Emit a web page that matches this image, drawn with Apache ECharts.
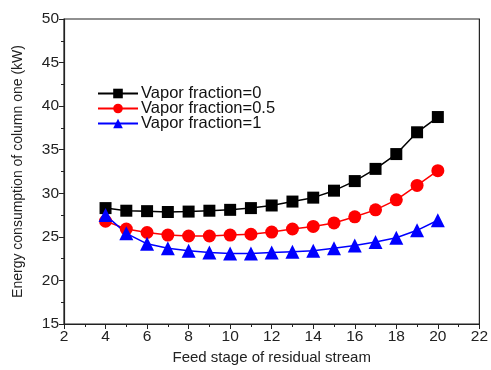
<!DOCTYPE html>
<html><head><meta charset="utf-8">
<script src="https://cdn.jsdelivr.net/npm/echarts@6/dist/echarts.min.js"></script>
<style>html,body{margin:0;padding:0;background:#fff}#c{width:491px;height:370px}</style>
</head><body><div id="c"></div>
<script>
const stages = [4,5,6,7,8,9,10,11,12,13,14,15,16,17,18,19,20];
const vf0 = [28.3,28.0,27.95,27.85,27.9,28.0,28.1,28.3,28.6,29.05,29.5,30.3,31.4,32.8,34.5,37.0,38.75];
const vf05 = [26.8,25.9,25.5,25.2,25.1,25.1,25.2,25.3,25.55,25.9,26.2,26.6,27.3,28.1,29.25,30.9,32.6];
const vf1 = [27.5,25.4,24.2,23.7,23.4,23.2,23.1,23.1,23.2,23.3,23.4,23.7,24.0,24.4,24.9,25.75,26.9];
const names = ['Vapor fraction=0','Vapor fraction=0.5','Vapor fraction=1'];
const font = 'Liberation Sans, Arial, sans-serif';
const mk = (arr)=>stages.map((s,i)=>[s,arr[i]]);
const chart = echarts.init(document.getElementById('c'));
chart.setOption({
  animation:false,
  grid:{left:64,right:9,top:19,bottom:44,show:true,borderColor:'#222',borderWidth:1.2,backgroundColor:'transparent'},
  legend:{left:97,top:85,orient:'vertical',itemWidth:40,itemHeight:12,itemGap:-2,padding:0,
    textStyle:{fontFamily:font,fontSize:16.5,color:'#111',padding:[0,0,0,-2]},data:names},
  xAxis:{type:'value',min:2,max:22,interval:2,name:'Feed stage of residual stream',nameLocation:'middle',nameGap:26,
    nameTextStyle:{fontFamily:font,fontSize:15,color:'#222'},
    axisLine:{lineStyle:{color:'#222',width:1.2}},axisTick:{length:5,lineStyle:{color:'#222'}},
    minorTick:{show:true,splitNumber:2,length:3,lineStyle:{color:'#222'}},
    axisLabel:{fontFamily:font,fontSize:15.5,color:'#222',margin:5},splitLine:{show:false}},
  yAxis:{type:'value',min:15,max:50,interval:5,name:'Energy consumption of column one (kW)',nameLocation:'middle',nameGap:39,
    nameTextStyle:{fontFamily:font,fontSize:14,color:'#222'},
    axisLine:{show:true,lineStyle:{color:'#222',width:1.2}},axisTick:{show:true,length:5,lineStyle:{color:'#222'}},
    minorTick:{show:true,splitNumber:2,length:3,lineStyle:{color:'#222'}},
    axisLabel:{fontFamily:font,fontSize:15.5,color:'#222',margin:5},splitLine:{show:false}},
  series:[
    {name:names[0],type:'line',data:mk(vf0),symbol:'rect',symbolSize:12,color:'#000',lineStyle:{width:1.5,color:'#000'},itemStyle:{color:'#000'}},
    {name:names[1],type:'line',data:mk(vf05),symbol:'circle',symbolSize:13,color:'#ff0000',lineStyle:{width:1.5,color:'#ff0000'},itemStyle:{color:'#ff0000'}},
    {name:names[2],type:'line',data:mk(vf1),symbol:'triangle',symbolSize:14,color:'#0000ff',lineStyle:{width:1.5,color:'#0000ff'},itemStyle:{color:'#0000ff'}}
  ]
});
</script></body></html>
